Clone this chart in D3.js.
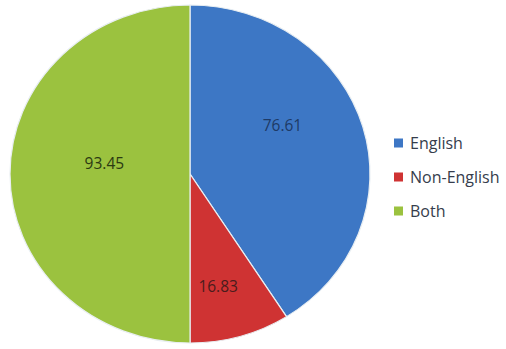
<!DOCTYPE html>
<html><head><meta charset="utf-8">
<script src="https://cdn.jsdelivr.net/npm/d3@7"></script>
<style>body{margin:0;background:#fff}svg{display:block}</style>
</head><body>
<svg id="c" width="506" height="349"></svg>
<script>
const categories = ["English", "Non-English", "Both"];
const values = [76.61, 16.83, 93.45];
const labels = ["76.61", "16.83", "93.45"];
const colors = ["#3d77c5", "#cf3333", "#9bc23f"];
const labelColors = ["#1e3a66", "#4a1c1c", "#2b3a12"];

const svg = d3.select("#c");
const cx = 190, cy = 174, rx = 180, ry = 169;
const sy = ry / rx;

const pie = d3.pie().sort(null).value(d => d);
const arcs = pie(values);
const arc = d3.arc().innerRadius(0).outerRadius(rx);

const g = svg.append("g").attr("transform", `translate(${cx},${cy}) scale(1,${sy})`);
g.selectAll("path").data(arcs).join("path")
  .attr("d", arc)
  .attr("fill", (d, i) => colors[i])
  .attr("stroke", "#e8eef2")
  .attr("stroke-width", 1.2);

// label placement within each slice: fraction along slice angle, fraction of radius
const labelAt = [[0.41, 0.59], [0.59, 0.68], [0.543, 0.48]];
svg.append("g").selectAll("text").data(arcs).join("text")
  .attr("x", (d, i) => {
    const a = d.startAngle + (d.endAngle - d.startAngle) * labelAt[i][0];
    return cx + Math.sin(a) * rx * labelAt[i][1];
  })
  .attr("y", (d, i) => {
    const a = d.startAngle + (d.endAngle - d.startAngle) * labelAt[i][0];
    return cy - Math.cos(a) * rx * labelAt[i][1] * sy;
  })
  .attr("text-anchor", "middle")
  .attr("dominant-baseline", "central")
  .attr("font-family", "Open Sans, sans-serif")
  .attr("font-size", 15.5)
  .attr("fill", (d, i) => labelColors[i])
  .text((d, i) => labels[i]);

const leg = svg.append("g").attr("transform", "translate(394,143)");
const item = leg.selectAll("g").data(categories).join("g")
  .attr("transform", (d, i) => `translate(0,${i * 34})`);
item.append("rect").attr("x", 0).attr("y", -4.5).attr("width", 9).attr("height", 9)
  .attr("fill", (d, i) => colors[i]);
item.append("text").attr("x", 16).attr("y", 0)
  .attr("dominant-baseline", "central")
  .attr("font-family", "Open Sans, sans-serif")
  .attr("font-size", 16)
  .attr("fill", "#363d4c")
  .text(d => d);
</script>
</body></html>
